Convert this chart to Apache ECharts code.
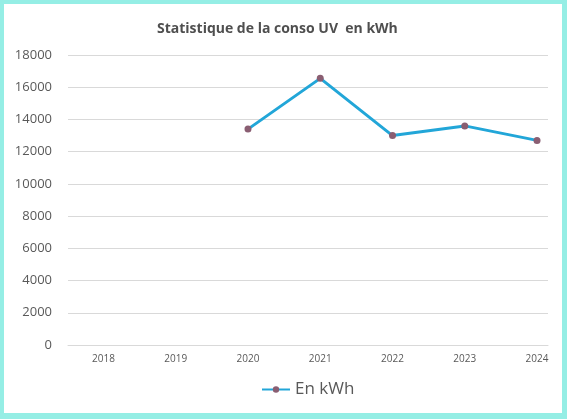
<!DOCTYPE html>
<html>
<head>
<meta charset="utf-8">
<script src="https://cdn.jsdelivr.net/npm/echarts@6/dist/echarts.min.js"></script>
<style>
  html, body { margin: 0; padding: 0; background: #95eee5; }
  #frame { position: absolute; left: 4px; top: 4px; width: 558px; height: 409px; background: #fff; }
  #chart { position: absolute; left: -4px; top: -4px; width: 567px; height: 419px; }
</style>
</head>
<body>
<div id="frame"><div id="chart"></div></div>
<script>
// years shown on the axis, and the ones that actually have data
const years = [2018, 2019, 2020, 2021, 2022, 2023, 2024];
const dataYears = [2020, 2021, 2022, 2023, 2024];
const consoKwh = [13400, 16550, 13000, 13600, 12700];
const yTicks = [0, 2000, 4000, 6000, 8000, 10000, 12000, 14000, 16000, 18000];

const txt = '#595959';
const font = '"Open Sans", "Liberation Sans", sans-serif';

const chart = echarts.init(document.getElementById('chart'));

chart.setOption({
    animation: false,
    title: {
        text: 'Statistique de la conso UV  en kWh',
        left: 152,
        top: 17,
        textStyle: { color: '#4f4f4f', fontSize: 14, fontWeight: 'bold', fontFamily: font }
    },
    legend: {
        data: ['En kWh'],
        bottom: 16,
        left: 256,
        itemWidth: 28,
        itemHeight: 8,
        itemGap: 4,
        textStyle: { color: txt, fontSize: 17, fontFamily: font }
    },
    grid: { left: 68, right: 19, top: 55, bottom: 74 },
    xAxis: {
        type: 'value',
        min: 2017.509,
        max: 2024.152,
        axisLine: { show: true, lineStyle: { color: '#d9d9d9' } },
        axisTick: { show: false },
        splitLine: { show: false },
        axisLabel: {
            customValues: years,
            color: txt,
            fontSize: 10,
            fontFamily: font,
            margin: 9,
            formatter: v => String(v)
        }
    },
    yAxis: {
        type: 'value',
        min: yTicks[0],
        max: yTicks[yTicks.length - 1],
        interval: 2000,
        axisLine: { show: false },
        axisTick: { show: false },
        splitLine: { lineStyle: { color: '#d9d9d9' } },
        axisLabel: { color: txt, fontSize: 13, fontFamily: font, margin: 16, formatter: v => String(v) }
    },
    series: [{
        name: 'En kWh',
        type: 'line',
        data: dataYears.map((y, i) => [y, consoKwh[i]]),
        symbol: 'circle',
        symbolSize: 7,
        lineStyle: { color: '#22a6d8', width: 3 },
        itemStyle: { color: '#8a5e72', borderWidth: 0 },
        color: '#22a6d8'
    }]
});
</script>
</body>
</html>
